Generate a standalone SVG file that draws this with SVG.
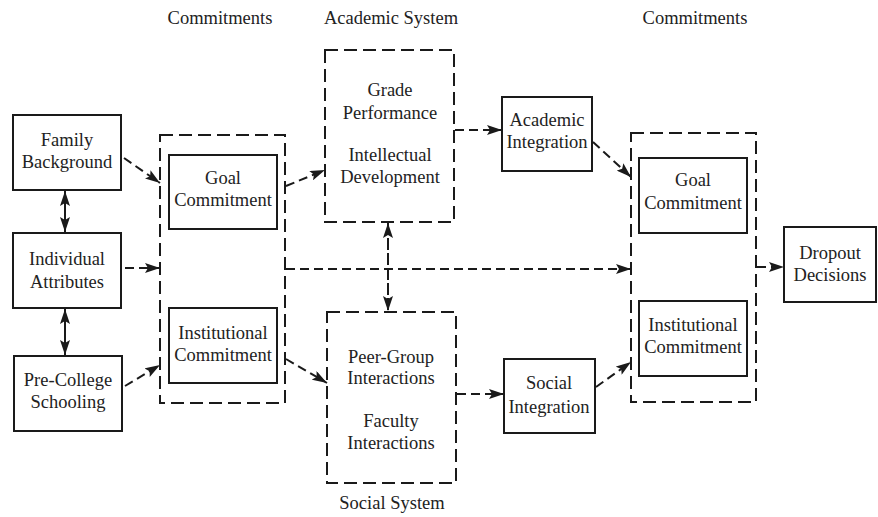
<svg xmlns="http://www.w3.org/2000/svg" width="878" height="517" viewBox="0 0 878 517">
  <style>
    text { font-family: 'Liberation Serif', 'DejaVu Serif', serif; font-size: 18.5px; fill: #222; text-anchor: middle; }
    .box { fill: #fff; stroke: #1a1a1a; stroke-width: 2; }
    .group { fill: none; stroke: #1a1a1a; stroke-width: 2; stroke-dasharray: 13 6; }
    .flow { fill: none; stroke: #1a1a1a; stroke-width: 2; stroke-dasharray: 9 5; marker-end: url(#head); }
    .link { fill: none; stroke: #1a1a1a; stroke-width: 2; marker-start: url(#head); marker-end: url(#head); }
  </style>
  <defs>
    <marker id="head" viewBox="0 0 15 10" refX="15" refY="5" markerWidth="15" markerHeight="10" markerUnits="userSpaceOnUse" orient="auto-start-reverse">
      <path d="M0,0 L15,5 L0,10 L3,5 z" fill="#1a1a1a"/>
    </marker>
  </defs>

  <rect width="878" height="517" fill="#fff"/>

  <!-- column headings -->
  <g id="headings" font-family="Liberation Serif, serif">
    <text x="220" y="24">Commitments</text>
    <text x="391" y="24">Academic System</text>
    <text x="695" y="24">Commitments</text>
    <text x="392" y="509">Social System</text>
  </g>

  <!-- connectors -->
  <g id="connectors">
    <line class="flow" x1="124" y1="158" x2="160" y2="183"/>
    <line class="flow" x1="125" y1="268" x2="160" y2="268"/>
    <line class="flow" x1="125" y1="386" x2="160" y2="365"/>
    <line class="flow" x1="286" y1="186" x2="325" y2="170"/>
    <line class="flow" x1="286" y1="359" x2="327" y2="383"/>
    <line class="flow" x1="455" y1="130" x2="502" y2="130"/>
    <line class="flow" x1="457" y1="394" x2="504" y2="394"/>
    <line class="flow" x1="286" y1="269" x2="631" y2="269"/>
    <line class="flow" x1="593" y1="142" x2="631" y2="177"/>
    <line class="flow" x1="596" y1="387" x2="631" y2="362"/>
    <line class="flow" x1="757" y1="267" x2="784" y2="267"/>
    <line class="link" x1="388" y1="223" x2="388" y2="311" stroke-dasharray="12 3"/>
    <line class="link" x1="65" y1="191" x2="65" y2="232"/>
    <line class="link" x1="65" y1="309" x2="65" y2="355"/>
  </g>

  <!-- background characteristics -->
  <g id="family-background">
    <rect class="box" x="13" y="115" width="108" height="75"/>
    <text x="67" y="146">Family</text>
    <text x="67" y="168">Background</text>
  </g>
  <g id="individual-attributes">
    <rect class="box" x="13" y="233" width="108" height="75"/>
    <text x="67" y="265">Individual</text>
    <text x="67" y="288">Attributes</text>
  </g>
  <g id="pre-college-schooling">
    <rect class="box" x="14" y="356" width="108" height="75"/>
    <text x="68" y="386">Pre-College</text>
    <text x="68" y="408">Schooling</text>
  </g>

  <!-- initial commitments -->
  <g id="initial-commitments">
    <rect class="group" x="160" y="135" width="125" height="268"/>
  </g>
  <g id="goal-commitment-1">
    <rect class="box" x="169" y="155" width="108" height="74"/>
    <text x="223" y="184">Goal</text>
    <text x="223" y="206">Commitment</text>
  </g>
  <g id="institutional-commitment-1">
    <rect class="box" x="169" y="308" width="108" height="75"/>
    <text x="223" y="339">Institutional</text>
    <text x="223" y="361">Commitment</text>
  </g>

  <!-- academic system -->
  <g id="academic-system">
    <rect class="group" x="325" y="50" width="129" height="172"/>
    <text x="390" y="96">Grade</text>
    <text x="390" y="119">Performance</text>
    <text x="390" y="161">Intellectual</text>
    <text x="390" y="183">Development</text>
  </g>

  <!-- social system -->
  <g id="social-system">
    <rect class="group" x="327" y="312" width="129" height="171"/>
    <text x="391" y="363">Peer-Group</text>
    <text x="391" y="384">Interactions</text>
    <text x="391" y="427">Faculty</text>
    <text x="391" y="449">Interactions</text>
  </g>

  <!-- integration -->
  <g id="academic-integration">
    <rect class="box" x="502" y="97" width="90" height="74"/>
    <text x="547" y="126">Academic</text>
    <text x="547" y="148">Integration</text>
  </g>
  <g id="social-integration">
    <rect class="box" x="504" y="359" width="91" height="74"/>
    <text x="549" y="389">Social</text>
    <text x="549" y="413">Integration</text>
  </g>

  <!-- later commitments -->
  <g id="later-commitments">
    <rect class="group" x="631" y="133" width="125" height="269"/>
  </g>
  <g id="goal-commitment-2">
    <rect class="box" x="639" y="158" width="108" height="75"/>
    <text x="693" y="186">Goal</text>
    <text x="693" y="209">Commitment</text>
  </g>
  <g id="institutional-commitment-2">
    <rect class="box" x="639" y="301" width="108" height="75"/>
    <text x="693" y="331">Institutional</text>
    <text x="693" y="353">Commitment</text>
  </g>

  <!-- outcome -->
  <g id="dropout-decisions">
    <rect class="box" x="784" y="227" width="92" height="75"/>
    <text x="830" y="259">Dropout</text>
    <text x="830" y="281">Decisions</text>
  </g>
</svg>
